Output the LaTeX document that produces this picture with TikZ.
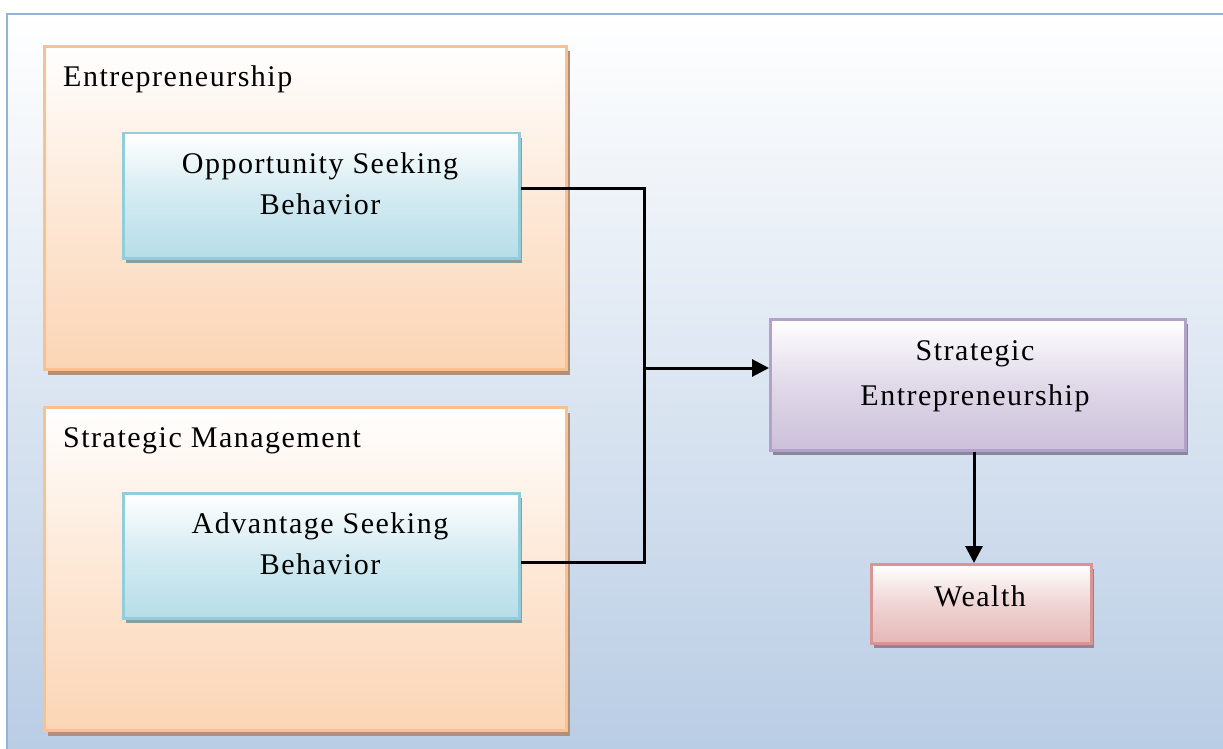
\documentclass[tikz,border=0pt]{standalone}
\usepackage{fontspec}
\setmainfont{Liberation Serif}[LetterSpace=5]
\usetikzlibrary{arrows.meta,shadows}
\definecolor{bgbot}{HTML}{B8CCE4}
\definecolor{framec}{HTML}{95B3D7}
\definecolor{orB}{HTML}{FAC090}
\definecolor{orF}{HTML}{FBD5B5}
\definecolor{orS}{HTML}{B0907A}
\definecolor{blB}{HTML}{92CDDC}
\definecolor{blF}{HTML}{B6DDE8}
\definecolor{blS}{HTML}{8E9C9C}
\definecolor{puB}{HTML}{B2A2C7}
\definecolor{puF}{HTML}{CCC0DA}
\definecolor{puS}{HTML}{8A86A0}
\definecolor{piB}{HTML}{D99594}
\definecolor{piF}{HTML}{E5B8B7}
\definecolor{piS}{HTML}{9A8090}
\tikzset{
  boxbase/.style={rectangle, inner sep=0pt, anchor=north west},
  groupbox/.style={boxbase, draw=orB, line width=3pt, top color=white, bottom color=orF, middle color=orF!55,
    drop shadow={fill=orS, opacity=1, shadow xshift=3pt, shadow yshift=-5pt},
    minimum width=522pt, minimum height=323pt},
  bluebox/.style={boxbase, draw=blB, line width=2.5pt, top color=white, bottom color=blF, middle color=blF!60,
    drop shadow={fill=blS, opacity=1, shadow xshift=3pt, shadow yshift=-5pt},
    minimum width=396pt, minimum height=125pt},
  purplebox/.style={boxbase, draw=puB, line width=2.5pt, top color=white, bottom color=puF, middle color=puF!60,
    drop shadow={fill=puS, opacity=1, shadow xshift=3pt, shadow yshift=-5pt},
    minimum width=415pt, minimum height=131pt},
  pinkbox/.style={boxbase, draw=piB, line width=2.5pt, top color=white, bottom color=piF, middle color=piF!60,
    drop shadow={fill=piS, opacity=1, shadow xshift=3pt, shadow yshift=-5pt},
    minimum width=220pt, minimum height=79pt},
  txt/.style={inner sep=0pt, font=\fontsize{30}{36}\selectfont, text=black},
  conn/.style={line width=3pt, black},
  arr/.style={conn, -{Triangle[length=17pt,width=17pt]}}
}
\begin{document}
\begin{tikzpicture}[x=1pt,y=-1pt]
\useasboundingbox (0,0) rectangle (1223,749);
\begin{scope}
\clip (0,0) rectangle (1223,749);
\fill[white] (0,0) rectangle (1223,749);
\shade[top color=white, bottom color=bgbot] (7,14) rectangle (1240,760);
\draw[framec, line width=2.5pt] (7,760) -- (7,14) -- (1240,14);
\end{scope}

\node[groupbox] (ent) at (43,45) {};
\node[groupbox] (sm) at (43,406) {};
\node[bluebox] (opp) at (122,132) {};
\node[bluebox] (adv) at (122,492) {};
\node[purplebox] (se) at (769,318) {};
\node[pinkbox] (wea) at (870,563) {};

\node[txt, anchor=base west] (entT) at (63,87) {Entrepreneurship};
\node[txt, anchor=base west] (smT) at (63,447) {Strategic Management};
\node[txt, anchor=base] (opp1) at (320,173) {Opportunity Seeking};
\node[txt, anchor=base] (opp2) at (320,214) {Behavior};
\node[txt, anchor=base] (adv1) at (320,533) {Advantage Seeking};
\node[txt, anchor=base] (adv2) at (320,574) {Behavior};
\node[txt, anchor=base] (se1) at (975,360) {Strategic};
\node[txt, anchor=base] (se2) at (975,405) {Entrepreneurship};
\node[txt, anchor=base] (wea1) at (980,606) {Wealth};

\coordinate (jn) at (644,368);
\draw[conn] (opp.east |- 0,188) -| (jn);
\draw[conn] (adv.east |- 0,562) -| (jn);
\draw[arr] (jn) -- (se.west |- jn);
\draw[arr] (se.south -| 974,0) -- (wea.north -| 974,0);
\end{tikzpicture}
\end{document}
